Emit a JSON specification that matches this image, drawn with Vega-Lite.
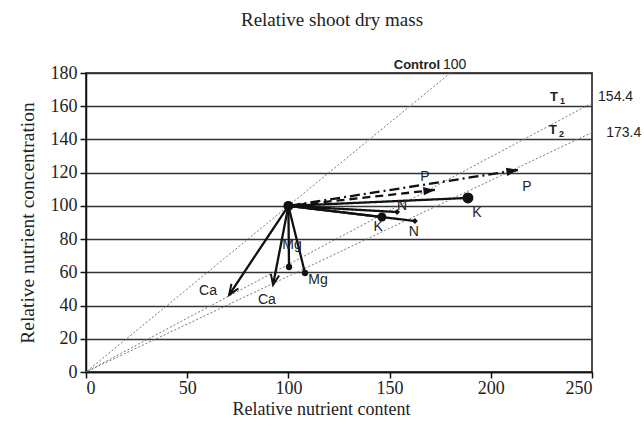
{
  "$schema": "https://vega.github.io/schema/vega-lite/v6.json",
  "width": 506,
  "height": 299,
  "autosize": "none",
  "padding": {"left": 86, "top": 73, "right": 52, "bottom": 55},
  "background": "white",
  "config": {
    "view": {"stroke": "#111", "strokeWidth": 1.5},
    "axis": {"domainColor": "#111", "domainWidth": 1.5, "tickColor": "#111", "tickWidth": 1.5}
  },
  "title": {
    "text": "Relative shoot dry mass",
    "font": "Liberation Serif",
    "fontSize": 19,
    "fontWeight": "normal",
    "color": "#222",
    "anchor": "middle",
    "offset": 28,
    "dx": -7
  },
  "datasets": {
    "vectors": [
      {"nutrient": "P", "x0": 100, "y0": 100, "x": 213.4, "y": 121.6, "line": "dashdot", "marker": "arrow"},
      {"nutrient": "P", "x0": 100, "y0": 100, "x": 172.4, "y": 109.6, "line": "dash", "marker": "arrow"},
      {"nutrient": "K", "x0": 100, "y0": 100, "x": 188.7, "y": 104.8, "line": "solid", "marker": "bigdot"},
      {"nutrient": "K", "x0": 100, "y0": 100, "x": 146.2, "y": 93.3, "line": "solid", "marker": "dot"},
      {"nutrient": "N", "x0": 100, "y0": 100, "x": 153.7, "y": 96.3, "line": "solid", "marker": "diamond"},
      {"nutrient": "N", "x0": 100, "y0": 100, "x": 162.5, "y": 90.9, "line": "solid", "marker": "diamond"},
      {"nutrient": "Mg", "x0": 100, "y0": 100, "x": 100.3, "y": 63.2, "line": "solid", "marker": "smalldot"},
      {"nutrient": "Mg", "x0": 100, "y0": 100, "x": 108.2, "y": 59.6, "line": "solid", "marker": "smalldot"},
      {"nutrient": "Ca", "x0": 100, "y0": 100, "x": 70.7, "y": 46.4, "line": "solid", "marker": "open"},
      {"nutrient": "Ca", "x0": 100, "y0": 100, "x": 92.4, "y": 52.4, "line": "solid", "marker": "open"}
    ],
    "labels": [
      {"text": "P", "x": 217.9, "y": 111.4},
      {"text": "P", "x": 167.5, "y": 117.4},
      {"text": "K", "x": 193.2, "y": 95.7},
      {"text": "K", "x": 144.3, "y": 87.3},
      {"text": "N", "x": 156.1, "y": 99.9},
      {"text": "N", "x": 162.0, "y": 84.3},
      {"text": "Mg", "x": 101.8, "y": 76.5},
      {"text": "Mg", "x": 114.6, "y": 55.4},
      {"text": "Ca", "x": 60.3, "y": 48.8},
      {"text": "Ca", "x": 89.4, "y": 43.3}
    ]
  },
  "encoding": {
    "x": {
      "field": "x",
      "type": "quantitative",
      "scale": {"domain": [0, 250], "nice": false, "zero": false},
      "axis": {
        "values": [0, 50, 100, 150, 200, 250],
        "grid": false,
        "tickSize": 6,
        "labelFont": "Liberation Serif",
        "labelFontSize": 18,
        "labelColor": "#222",
        "labelPadding": 1,
        "title": "Relative nutrient content",
        "titleFont": "Liberation Serif",
        "titleFontSize": 18,
        "titleFontWeight": "normal",
        "titleColor": "#222",
        "titlePadding": 3,
        "titleX": 235
      }
    },
    "y": {
      "field": "y",
      "type": "quantitative",
      "scale": {"domain": [0, 180], "nice": false, "zero": false},
      "axis": {
        "values": [0, 20, 40, 60, 80, 100, 120, 140, 160, 180],
        "grid": true,
        "gridColor": "#333",
        "gridWidth": 1.6,
        "tickSize": 6,
        "labelFont": "Liberation Serif",
        "labelFontSize": 18,
        "labelColor": "#222",
        "labelPadding": 3,
        "title": "Relative nutrient concentration",
        "titleFont": "Liberation Serif",
        "titleFontSize": 19.5,
        "titleFontWeight": "normal",
        "titleColor": "#222",
        "titlePadding": 13
      }
    }
  },
  "layer": [
    {
      "data": {"values": [
        {"name": "Control", "x0": 0, "y0": 0, "x": 180, "y": 180},
        {"name": "T1", "x0": 0, "y0": 0, "x": 250, "y": 161.9},
        {"name": "T2", "x0": 0, "y0": 0, "x": 250, "y": 144.2}
      ]},
      "mark": {"type": "rule", "color": "#777", "strokeWidth": 1, "strokeDash": [2, 2]},
      "encoding": {"x2": {"field": "x0"}, "y2": {"field": "y0"}}
    },
    {
      "data": {"name": "vectors"},
      "mark": {"type": "rule", "color": "#111", "strokeWidth": 2.3},
      "encoding": {
        "x2": {"field": "x0"},
        "y2": {"field": "y0"},
        "strokeDash": {
          "field": "line",
          "type": "nominal",
          "scale": {"domain": ["solid", "dash", "dashdot"], "range": [[1, 0], [8, 5], [10, 4, 2, 4]]},
          "legend": null
        }
      }
    },
    {
      "data": {"name": "vectors"},
      "transform": [
        {"filter": "datum.marker === 'arrow'"},
        {"calculate": "atan2((datum.x - datum.x0) * 2.024, (datum.y - datum.y0) * 1.661) * 180 / PI", "as": "ang"}
      ],
      "mark": {"type": "point", "shape": "M0,0 L-0.8,2.2 L0.8,2.2 Z", "filled": true, "color": "#111", "opacity": 1, "size": 110},
      "encoding": {
        "angle": {"field": "ang", "type": "quantitative", "scale": null}
      }
    },
    {
      "data": {"name": "vectors"},
      "transform": [
        {"filter": "datum.marker === 'open'"},
        {"calculate": "atan2((datum.x - datum.x0) * 2.024, (datum.y - datum.y0) * 1.661) * 180 / PI", "as": "ang"}
      ],
      "mark": {"type": "point", "shape": "M-0.8,2 L0,0 L0.8,2", "filled": false, "color": "#111", "strokeWidth": 2, "opacity": 1, "size": 110},
      "encoding": {
        "angle": {"field": "ang", "type": "quantitative", "scale": null}
      }
    },
    {
      "data": {"name": "vectors"},
      "transform": [{"filter": "datum.marker === 'bigdot'"}],
      "mark": {"type": "point", "shape": "circle", "filled": true, "color": "#111", "opacity": 1, "size": 120}
    },
    {
      "data": {"name": "vectors"},
      "transform": [{"filter": "datum.marker === 'dot'"}],
      "mark": {"type": "point", "shape": "circle", "filled": true, "color": "#111", "opacity": 1, "size": 80}
    },
    {
      "data": {"name": "vectors"},
      "transform": [{"filter": "datum.marker === 'smalldot'"}],
      "mark": {"type": "point", "shape": "circle", "filled": true, "color": "#111", "opacity": 1, "size": 40}
    },
    {
      "data": {"name": "vectors"},
      "transform": [{"filter": "datum.marker === 'diamond'"}],
      "mark": {"type": "point", "shape": "diamond", "filled": true, "color": "#111", "opacity": 1, "size": 35}
    },
    {
      "data": {"values": [{"x": 100, "y": 100}]},
      "mark": {"type": "point", "shape": "circle", "filled": true, "color": "#111", "opacity": 1, "size": 100}
    },
    {
      "data": {"name": "labels"},
      "mark": {"type": "text", "font": "Liberation Sans", "fontSize": 14, "color": "#222", "align": "center", "baseline": "middle"},
      "encoding": {"text": {"field": "text"}}
    },
    {
      "data": {"values": [
        {"text": "Control", "x": 174.9, "y": 184.8},
        {"text": "T", "x": 233.2, "y": 165.6},
        {"text": "T", "x": 232.7, "y": 145.7}
      ]},
      "mark": {"type": "text", "font": "Liberation Sans", "fontSize": 13, "fontWeight": "bold", "color": "#222", "align": "right", "baseline": "middle"},
      "encoding": {"text": {"field": "text"}}
    },
    {
      "data": {"values": [
        {"text": "1", "x": 236.7, "y": 163.2},
        {"text": "2", "x": 236.2, "y": 143.3}
      ]},
      "mark": {"type": "text", "font": "Liberation Sans", "fontSize": 9, "fontWeight": "bold", "color": "#222", "align": "right", "baseline": "middle"},
      "encoding": {"text": {"field": "text"}}
    },
    {
      "data": {"values": [
        {"text": "100", "x": 176.4, "y": 184.8},
        {"text": "154.4", "x": 253, "y": 165.6},
        {"text": "173.4", "x": 257, "y": 143.9}
      ]},
      "mark": {"type": "text", "font": "Liberation Sans", "fontSize": 14, "color": "#222", "align": "left", "baseline": "middle"},
      "encoding": {"text": {"field": "text"}}
    }
  ]
}
